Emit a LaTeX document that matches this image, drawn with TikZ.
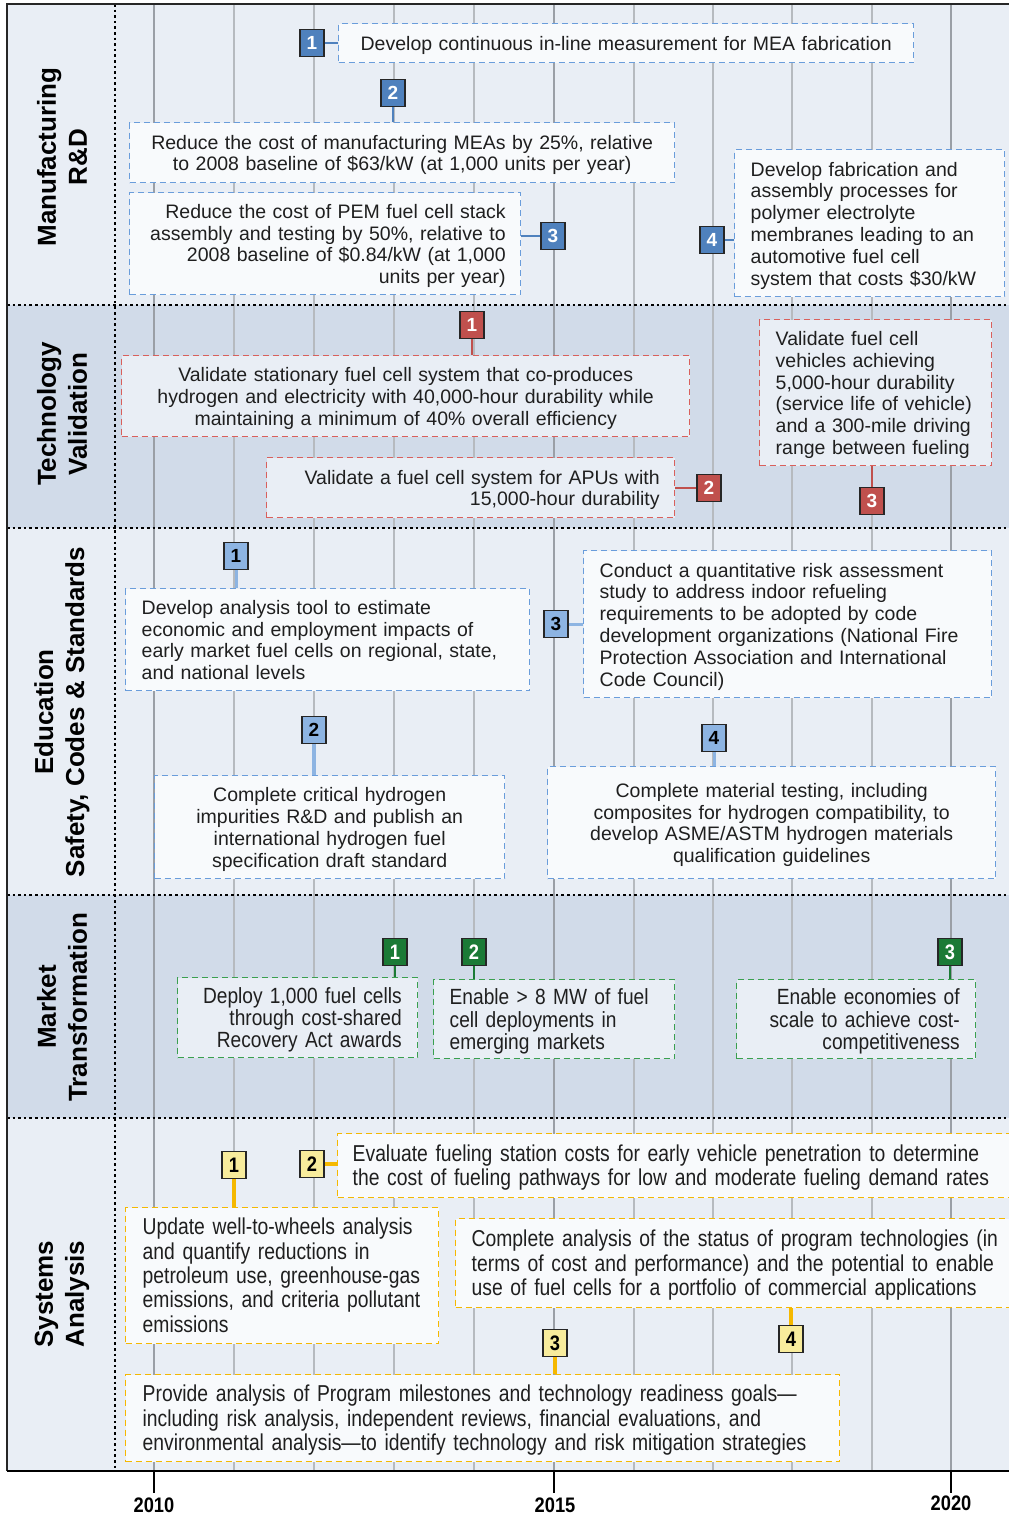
\documentclass[tikz,border=0pt]{standalone}
\usepackage{fontspec}
\setmainfont{Liberation Sans}
\newfontfamily\narrowfont[FakeStretch=0.87]{Liberation Sans}
\newfontfamily\sanarrow[FakeStretch=0.84]{Liberation Sans}
\newcommand{\bodyfnt}{\fontsize{19.5}{21.8}\selectfont}
\newcommand{\mtfnt}{\narrowfont\fontsize{22}{21.2}\selectfont}
\newcommand{\safnt}{\sanarrow\fontsize{23}{24.3}\selectfont}
\newcommand{\lns}[2]{\raisebox{-3pt}[\height][\depth]{\begin{tabular}{@{}#1@{}}#2\end{tabular}}}
\definecolor{bandL}{HTML}{E9EEF5}
\definecolor{bandD}{HTML}{D1DBE9}
\definecolor{boxL}{HTML}{F8FAFC}
\definecolor{boxD}{HTML}{E9EEF5}
\definecolor{gridc}{HTML}{B6BABF}
\definecolor{gridM}{HTML}{9A9FA6}
\definecolor{mdash}{HTML}{6A9DDB}
\definecolor{mbadgec}{HTML}{4F81BD}
\definecolor{ebadgec}{HTML}{8DB4E2}
\definecolor{rdash}{HTML}{D9605C}
\definecolor{rbadgec}{HTML}{C0504D}
\definecolor{gdash}{HTML}{3AA04F}
\definecolor{gbadgec}{HTML}{1B7A36}
\definecolor{ydash}{HTML}{F5B800}
\definecolor{ybadgec}{HTML}{F8EC9C}
\tikzset{
  badgebase/.style={draw=black!85, line width=1.3pt, minimum width=24pt, minimum height=27pt, inner sep=0pt},
  mbadge/.style={badgebase, fill=mbadgec, text=white, font=\fontsize{19}{19}\selectfont\bfseries},
  ebadge/.style={badgebase, fill=ebadgec, text=black, font=\fontsize{19}{19}\selectfont\bfseries},
  rbadge/.style={badgebase, fill=rbadgec, text=white, font=\fontsize{19}{19}\selectfont\bfseries},
  gbadge/.style={badgebase, fill=gbadgec, text=white, font=\narrowfont\fontsize{21}{21}\selectfont\bfseries},
  ybadge/.style={badgebase, fill=ybadgec, text=black, font=\narrowfont\fontsize{21}{21}\selectfont\bfseries},
  boxbase/.style={line width=1.4pt, dash pattern=on 6pt off 4pt, inner xsep=15pt, inner ysep=0pt, anchor=north west, text=black!88},
  mbox/.style={boxbase, draw=mdash, fill=boxL, font=\bodyfnt},
  rbox/.style={boxbase, draw=rdash, fill=boxD, font=\bodyfnt},
  gbox/.style={boxbase, draw=gdash, fill=boxD, font=\mtfnt},
  ybox/.style={boxbase, draw=ydash, fill=boxL, font=\safnt},
  mconn/.style={draw=mbadgec, line width=2.5pt},
  econn/.style={draw=ebadgec, line width=3pt},
  rconn/.style={draw=rbadgec, line width=2.5pt},
  gconn/.style={draw=gbadgec, line width=2.5pt},
  yconn/.style={draw=ydash, line width=3.5pt},
  rowlbl/.style={rotate=90, align=center, font=\fontsize{26}{31}\selectfont\bfseries},
  yearlbl/.style={inner sep=0pt, font=\narrowfont\fontsize{21}{21}\selectfont\bfseries},
  sep/.style={line width=2.6pt, dash pattern=on 2.6pt off 3pt},
  minorgrid/.style={draw=gridc, line width=1.6pt},
  majorgrid/.style={draw=gridM, line width=2.6pt}
}
\begin{document}
\begin{tikzpicture}[x=1pt,y=-1pt]
\useasboundingbox (0,0) rectangle (1009,1516);
\clip (0,0) rectangle (1009,1516);
% bands
\fill[bandL] (7,4) rectangle (1012,305);
\fill[bandD] (7,305) rectangle (1012,528);
\fill[bandL] (7,528) rectangle (1012,895);
\fill[bandD] (7,895) rectangle (1012,1118);
\fill[bandL] (7,1118) rectangle (1012,1471);
% grid
\foreach \gx in {234,314,394,474,634,713,792,872}
  \draw[minorgrid] (\gx,4) -- (\gx,1471);
\foreach \gx in {154,554,951}
  \draw[majorgrid] (\gx,4) -- (\gx,1471);
% separators
\foreach \sy in {305,528,895,1118}
  \draw[sep] (7,\sy) -- (1012,\sy);
\draw[sep] (115,4) -- (115,1471);
% frame and axis
\draw[line width=2pt, black!85] (1012,4) -- (7,4) -- (7,1471);
\draw[line width=2.4pt] (7,1471) -- (1012,1471);
\foreach \tx in {154,554,951}
  \draw[line width=2pt] (\tx,1471) -- (\tx,1493);
\node[yearlbl] (y2010) at (154,1505) {2010};
\node[yearlbl] (y2015) at (555,1505) {2015};
\node[yearlbl] (y2020) at (951,1503) {2020};
% row labels
\node[rowlbl] (l1) at (62,157) {Manufacturing\\R\&D};
\node[rowlbl] (l2) at (62,414) {Technology\\Validation};
\node[rowlbl] (l3) at (62,712) {Education\\Safety, Codes \& Standards};
\node[rowlbl] (l4) at (62,1007) {Market\\Transformation};
\node[rowlbl] (l5) at (62,1294) {Systems\\Analysis};

% ---------- Manufacturing R&D
\node[mbox, minimum width=575pt, minimum height=39pt, text width=545pt, align=center] (m1) at (338,23)
  {\lns{c}{Develop continuous in-line measurement for MEA fabrication}};
\node[mbox, minimum width=545pt, minimum height=60pt, text width=515pt, align=center] (m2) at (129,122)
  {\lns{c}{Reduce the cost of manufacturing MEAs by 25\%, relative\\to 2008 baseline of \$63/kW (at 1,000 units per year)}};
\node[mbox, minimum width=391pt, minimum height=102pt, text width=361pt, align=right] (m3) at (129,192)
  {\lns{r}{Reduce the cost of PEM fuel cell stack\\assembly and testing by 50\%, relative to\\2008 baseline of \$0.84/kW (at 1,000\\units per year)}};
\node[mbox, inner xsep=16pt, minimum width=270pt, minimum height=147pt, text width=238pt, align=left] (m4) at (734,149)
  {\lns{l}{Develop fabrication and\\assembly processes for\\polymer electrolyte\\membranes leading to an\\automotive fuel cell\\system that costs \$30/kW}};
\node[mbadge] (mb1) at (312,43) {1};
\node[mbadge] (mb2) at (393,93) {2};
\node[mbadge] (mb3) at (553,236) {3};
\node[mbadge] (mb4) at (712,240) {4};
\draw[mconn] (mb1.east) -- (mb1.east -| m1.west);
\draw[mconn] (mb2.south) -- (mb2.south |- m2.north);
\draw[mconn] (mb3.west -| m3.east) -- (mb3.west);
\draw[mconn] (mb4.east) -- (mb4.east -| m4.west);

% ---------- Technology Validation
\node[rbox, minimum width=568pt, minimum height=81pt, text width=538pt, align=center] (t1) at (121,355)
  {\lns{c}{Validate stationary fuel cell system that co-produces\\hydrogen and electricity with 40,000-hour durability while\\maintaining a minimum of 40\% overall efficiency}};
\node[rbox, minimum width=408pt, minimum height=60pt, text width=378pt, align=right] (t2) at (266,457)
  {\lns{r}{Validate a fuel cell system for APUs with\\15,000-hour durability}};
\node[rbox, inner xsep=16pt, minimum width=232pt, minimum height=146pt, text width=200pt, align=left] (t3) at (759,319)
  {\lns{l}{Validate fuel cell\\vehicles achieving\\5,000-hour durability\\(service life of vehicle)\\and a 300-mile driving\\range between fueling}};
\node[rbadge] (tb1) at (472,325) {1};
\node[rbadge] (tb2) at (709,488) {2};
\node[rbadge] (tb3) at (872,501) {3};
\draw[rconn] (tb1.south) -- (tb1.south |- t1.north);
\draw[rconn] (tb2.west -| t2.east) -- (tb2.west);
\draw[rconn] (tb3.north) -- (tb3.north |- t3.south);

% ---------- Education / Safety, Codes & Standards
\node[mbox, inner xsep=16pt, minimum width=404pt, minimum height=102pt, text width=372pt, align=left] (e1) at (125,588)
  {\lns{l}{Develop analysis tool to estimate\\economic and employment impacts of\\early market fuel cells on regional, state,\\and national levels}};
\node[mbox, minimum width=350pt, minimum height=103pt, text width=320pt, align=center] (e2) at (154,775)
  {\lns{c}{Complete critical hydrogen\\impurities R\&D and publish an\\international hydrogen fuel\\specification draft standard}};
\node[mbox, inner xsep=16pt, minimum width=408pt, minimum height=147pt, text width=376pt, align=left] (e3) at (583,550)
  {\lns{l}{Conduct a quantitative risk assessment\\study to address indoor refueling\\requirements to be adopted by code\\development organizations (National Fire\\Protection Association and International\\Code Council)}};
\node[mbox, minimum width=448pt, minimum height=112pt, text width=418pt, align=center] (e4) at (547,766)
  {\lns{c}{Complete material testing, including\\composites for hydrogen compatibility, to\\develop ASME/ASTM hydrogen materials\\qualification guidelines}};
\node[ebadge] (eb1) at (236,556) {1};
\node[ebadge] (eb2) at (314,730) {2};
\node[ebadge] (eb3) at (556,624) {3};
\node[ebadge] (eb4) at (714,738) {4};
\draw[econn] (eb1.south) -- (eb1.south |- e1.north);
\draw[econn, line width=4.5pt] (eb2.south) -- (eb2.south |- e2.north);
\draw[econn] (eb3.east) -- (eb3.east -| e3.west);
\draw[econn] (eb4.south) -- (eb4.south |- e4.north);

% ---------- Market Transformation
\node[gbox, inner xsep=16pt, minimum width=240pt, minimum height=80pt, text width=208pt, align=right] (g1) at (177,977)
  {\lns{r}{Deploy 1,000 fuel cells\\through cost-shared\\Recovery Act awards}};
\node[gbox, inner xsep=16pt, minimum width=241pt, minimum height=79pt, text width=209pt, align=left] (g2) at (433,979)
  {\lns{l}{Enable > 8 MW of fuel\\cell deployments in\\emerging markets}};
\node[gbox, inner xsep=16pt, minimum width=239pt, minimum height=79pt, text width=207pt, align=right] (g3) at (736,979)
  {\lns{r}{Enable economies of\\scale to achieve cost-\\competitiveness}};
\node[gbadge] (gb1) at (395,952) {1};
\node[gbadge] (gb2) at (474,952) {2};
\node[gbadge] (gb3) at (950,952) {3};
\draw[gconn] (gb1.south) -- (gb1.south |- g1.north);
\draw[gconn] (gb2.south) -- (gb2.south |- g2.north);
\draw[gconn] (gb3.south) -- (gb3.south |- g3.north);

% ---------- Systems Analysis
\node[ybox, inner xsep=17pt, minimum width=313pt, minimum height=136pt, text width=279pt, align=left] (s1) at (125,1207)
  {\lns{l}{Update well-to-wheels analysis\\and quantify reductions in\\petroleum use, greenhouse-gas\\emissions, and criteria pollutant\\emissions}};
\node[ybox, minimum width=680pt, minimum height=64pt, text width=650pt, align=left] (s2) at (337,1133)
  {\lns{l}{Evaluate fueling station costs for early vehicle penetration to determine\\the cost of fueling pathways for low and moderate fueling demand rates}};
\node[ybox, inner xsep=16pt, minimum width=560pt, minimum height=89pt, text width=528pt, align=left] (s4) at (455,1218)
  {\lns{l}{Complete analysis of the status of program technologies (in\\terms of cost and performance) and the potential to enable\\use of fuel cells for a portfolio of commercial applications}};
\node[ybox, inner xsep=17pt, minimum width=714pt, minimum height=87pt, text width=680pt, align=left] (s3) at (125,1374)
  {\lns{l}{Provide analysis of Program milestones and technology readiness goals\textemdash\\including risk analysis, independent reviews, financial evaluations, and\\environmental analysis\textemdash to identify technology and risk mitigation strategies}};
\node[ybadge] (yb1) at (234,1165) {1};
\node[ybadge] (yb2) at (312,1164) {2};
\node[ybadge] (yb3) at (555,1343) {3};
\node[ybadge] (yb4) at (791,1339) {4};
\draw[yconn] (yb1.south) -- (yb1.south |- s1.north);
\draw[yconn] (yb2.east) -- (yb2.east -| s2.west);
\draw[yconn] (yb3.south) -- (yb3.south |- s3.north);
\draw[yconn] (yb4.north) -- (yb4.north |- s4.south);
\end{tikzpicture}
\end{document}
